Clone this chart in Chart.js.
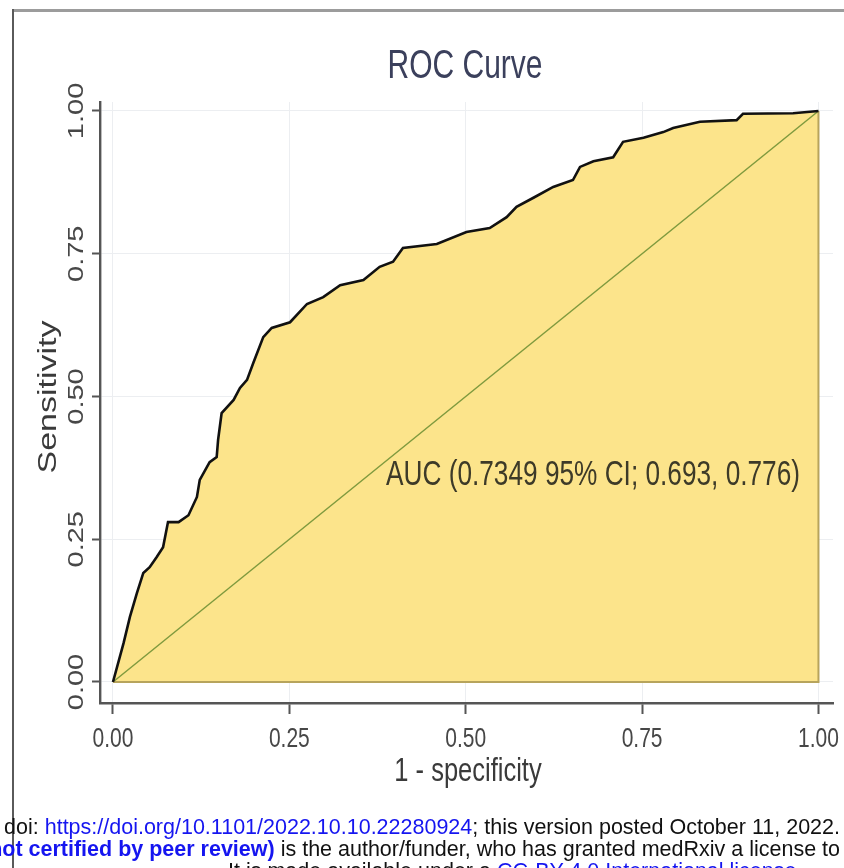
<!DOCTYPE html>
<html>
<head>
<meta charset="utf-8">
<script src="https://cdn.jsdelivr.net/npm/chart.js@4.4.1/dist/chart.umd.min.js"></script>
<style>
  html, body { margin: 0; padding: 0; background: #fff; }
  body { width: 844px; height: 868px; position: relative; overflow: hidden; font-family: "Liberation Sans", Arial, sans-serif; }
  #wrap { position: absolute; left: 0; top: 0; width: 844px; height: 800px; }
  .frameTop { position: absolute; left: 12px; top: 9px; width: 840px; height: 0; border-top: 3px solid #9c9c9c; }
  .frameLeft { position: absolute; left: 12px; top: 9px; width: 0; height: 870px; border-left: 2px solid #5a5a5a; }
  .foot { position: absolute; white-space: nowrap; font-size: 21.5px; line-height: 24px; color: #111; }
  .foot .lnk { color: #1515f0; }
  .foot b { color: #1515f0; }
</style>
</head>
<body>
<div id="wrap"><canvas id="roc" width="844" height="800"></canvas></div>
<div class="frameTop"></div>
<div class="frameLeft"></div>
<div class="foot" style="right:4px; top:815px;">t doi: <span class="lnk">https://doi.org/10.1101/2022.10.10.22280924</span>; this version posted October 11, 2022.</div>
<div class="foot" style="right:4px; top:837px;"><b>not certified by peer review)</b> is the author/funder, who has granted medRxiv a license to</div>
<div class="foot" style="left:228px; top:859px;">It is made available under a <span class="lnk" style="text-decoration:underline">CC-BY 4.0 International license</span> .</div>
<script>
// tick values and labels
const xTicks = [0, 0.25, 0.5, 0.75, 1];
const yTicks = [0, 0.25, 0.5, 0.75, 1];
const tickLabels = ['0.00', '0.25', '0.50', '0.75', '1.00'];

// ROC curve (1 - specificity, sensitivity)
const fpr = [0, 0.015, 0.024, 0.034, 0.043, 0.052, 0.062, 0.071, 0.078, 0.093, 0.107, 0.119, 0.123,
  0.137, 0.147, 0.149, 0.154, 0.171, 0.180, 0.190, 0.199, 0.213, 0.225, 0.251, 0.275, 0.298, 0.322,
  0.355, 0.378, 0.397, 0.411, 0.459, 0.501, 0.534, 0.558, 0.572, 0.596, 0.624, 0.652, 0.662, 0.681,
  0.709, 0.723, 0.752, 0.780, 0.794, 0.832, 0.884, 0.893, 0.964, 1];
const tpr = [0, 0.068, 0.114, 0.156, 0.191, 0.201, 0.219, 0.236, 0.280, 0.280, 0.292, 0.324, 0.354,
  0.385, 0.394, 0.424, 0.471, 0.494, 0.515, 0.529, 0.559, 0.604, 0.620, 0.630, 0.662, 0.674, 0.695,
  0.704, 0.727, 0.736, 0.760, 0.767, 0.788, 0.795, 0.814, 0.832, 0.848, 0.867, 0.879, 0.902, 0.912,
  0.919, 0.946, 0.953, 0.963, 0.970, 0.981, 0.984, 0.995, 0.996, 1];

// chance line and the closing edge of the shaded area
const chanceX = [0, 1];
const chanceY = [0, 1];
const edgeX = [0, 1, 1];
const edgeY = [0, 0, 1];

const chartTitle = 'ROC Curve';
const xTitle = '1 - specificity';
const yTitle = 'Sensitivity';
const aucLabel = 'AUC (0.7349 95% CI; 0.693, 0.776)';

const FONT = '"Liberation Sans", Arial, sans-serif';
const SQUEEZE = 0.75; // the picture is squashed sideways

function pts(xs, ys) {
    return xs.map((x, i) => ({ x: x, y: ys[i] }));
}

function drawText(ctx, text, x, y, size, color, opts) {
    opts = opts || {};
    ctx.save();
    ctx.font = size + 'px ' + FONT;
    ctx.fillStyle = color;
    ctx.textAlign = opts.align || 'center';
    ctx.textBaseline = 'alphabetic';
    ctx.translate(x, y);
    let sx = SQUEEZE;
    if (opts.fitWidth) sx = opts.fitWidth / ctx.measureText(text).width;
    ctx.scale(sx, 1);
    if (opts.vertical) ctx.rotate(-Math.PI / 2);
    ctx.fillText(text, 0, 0);
    ctx.restore();
}

const textPlugin = {
    id: 'rocText',
    afterDraw(chart) {
        const ctx = chart.ctx;
        const xs = chart.scales.x, ys = chart.scales.y;
        drawText(ctx, chartTitle, 465, 78, 40, '#3b405c');
        xTicks.forEach((v, i) => {
            drawText(ctx, tickLabels[i], xs.getPixelForValue(v), 747, 28, '#474747');
        });
        yTicks.forEach((v, i) => {
            drawText(ctx, tickLabels[i], 83, ys.getPixelForValue(v), 29, '#474747', { vertical: true });
        });
        drawText(ctx, xTitle, 468, 781, 34, '#3a3a3a');
        drawText(ctx, yTitle, 56, 397, 34, '#3a3a3a', { vertical: true });
        drawText(ctx, aucLabel, xs.getPixelForValue(0.387), ys.getPixelForValue(0.345), 35, '#3d3a28',
            { align: 'left', fitWidth: 414 });
    }
};

function fixedTicks(list) {
    return function (scale) {
        scale.ticks = list.map(v => ({ value: v }));
    };
}

new Chart(document.getElementById('roc').getContext('2d'), {
    type: 'scatter',
    data: {
        datasets: [{
            label: 'ROC',
            data: pts(fpr, tpr),
            showLine: true,
            borderColor: '#111',
            borderWidth: 2.6,
            backgroundColor: '#fce48b',
            fill: 'origin',
            pointRadius: 0,
            tension: 0,
            order: 1
        }, {
            label: 'chance',
            data: pts(chanceX, chanceY),
            showLine: true,
            borderColor: '#7f9a3e',
            borderWidth: 1.5,
            pointRadius: 0,
            order: 3
        }, {
            label: 'edge',
            data: pts(edgeX, edgeY),
            showLine: true,
            borderColor: '#b7a45c',
            borderWidth: 2,
            pointRadius: 0,
            order: 2
        }]
    },
    options: {
        responsive: false,
        animation: false,
        devicePixelRatio: 1,
        layout: { padding: { left: 0, right: 11, top: 102, bottom: 0 } },
        scales: {
            x: {
                type: 'linear',
                min: -0.0184,
                max: 1.0206,
                afterBuildTicks: fixedTicks(xTicks),
                afterFit(scale) { scale.height = 97; },
                ticks: { display: false },
                grid: { color: '#eceef1', lineWidth: 1, tickLength: 11, tickColor: '#555', tickWidth: 2 },
                border: { color: '#555', width: 2.4 }
            },
            y: {
                type: 'linear',
                min: -0.0368,
                max: 1.0157,
                afterBuildTicks: fixedTicks(yTicks),
                afterFit(scale) { scale.width = 100; },
                ticks: { display: false },
                grid: { color: '#eceef1', lineWidth: 1, tickLength: 8, tickColor: '#555', tickWidth: 2 },
                border: { color: '#555', width: 2.4 }
            }
        },
        plugins: {
            legend: { display: false },
            tooltip: { enabled: false },
            title: { display: false },
            filler: { drawTime: 'beforeDatasetsDraw' }
        }
    },
    plugins: [textPlugin]
});
</script>
</body>
</html>
